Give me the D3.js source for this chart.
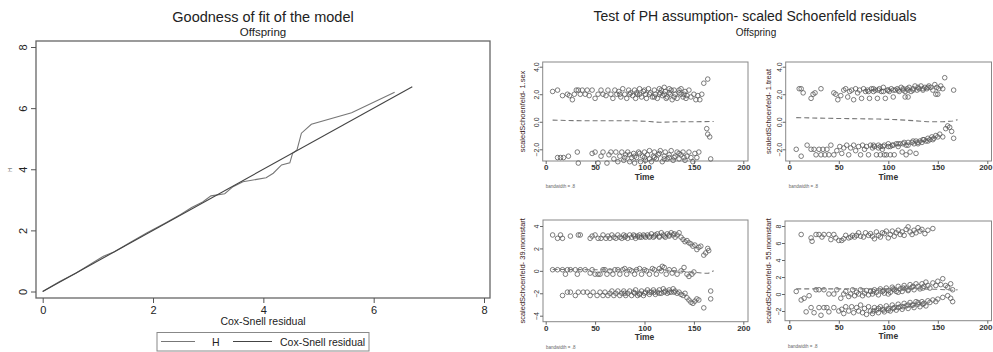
<!DOCTYPE html>
<html>
<head>
<meta charset="utf-8">
<script src="https://cdn.jsdelivr.net/npm/d3@7"></script>
<style>
  body { margin: 0; background: #fff; }
  svg { display: block; font-family: "Liberation Sans", Arial, sans-serif; }
</style>
</head>
<body>
<div id="chart"></div>
<script>
// ---- goodness of fit (left) ----
const fitTicks = [0, 2, 4, 6, 8];
// Nelson-Aalen cumulative hazard H against Cox-Snell residual
const hazardH = [[0,0],[0.3,0.32],[0.6,0.6],[0.9,0.93],[1.1,1.15],[1.3,1.3],[1.6,1.62],[1.9,1.93],
  [2.2,2.22],[2.5,2.52],[2.7,2.75],[2.9,2.93],[3.05,3.13],[3.3,3.2],[3.45,3.43],[3.63,3.59],
  [3.88,3.67],[4.05,3.72],[4.18,3.87],[4.33,4.14],[4.48,4.21],[4.53,4.52],[4.61,4.63],
  [4.69,5.18],[4.87,5.47],[5.6,5.85],[6.38,6.52]];
const coxSnellRef = [[0,0],[6.7,6.7]];
const legendLabels = ['H', 'Cox-Snell residual'];

// ---- scaled Schoenfeld residuals (right) ----
const timeTicks = [0, 50, 100, 150, 200];

const sexHi = [[7,2.2],[12,2.3],[17,1.9],[22,2.0],[24,1.9],[27,1.6],[29,2.0],[31,2.3],[33,2.3],[35,2.0],[37,2.3],[40,2.0],
  [42,2.3],[44,1.9],[47,2.3],[50,1.7],[53,2.0],[56,2.3],[58,2.0],[61,1.9],[63,2.3],[66,2.0],[68,1.7],[70,2.3],[72,2.0],
  [74,2.2],[76,1.8],[78,2.4],[80,2.0],[82,1.7],[84,2.3],[86,2.1],[88,1.9],[90,2.3],[91,1.7],[93,2.0],[95,2.4],[97,1.8],
  [99,2.2],[101,2.0],[102,1.7],[104,2.4],[106,2.1],[108,1.8],[110,2.3],[111,2.0],[113,1.7],[115,2.4],[116,2.1],[118,1.9],
  [120,2.5],[121,2.2],[123,1.8],[125,2.4],[126,2.0],[128,1.6],[130,2.3],[131,2.0],[133,1.7],[135,2.3],[137,2.0],[139,1.8],
  [141,2.2],[143,1.9],[145,2.3],[147,1.8],[150,2.0],[152,1.6],[154,1.9],[156,1.6],[158,2.0],[160,2.8],[164,3.1],
  [75,2.0],[85,2.0],[95,2.0],[105,2.0],[115,2.0],[125,2.1],[135,2.1],[100,2.3],[110,1.8],[120,2.0],[130,1.8],[140,2.0],
  [92,2.1],[117,2.3],[127,2.3],[137,2.4],[122,1.7],[142,1.7]];
const sexLo = [[12,-2.6],[15,-2.6],[18,-2.6],[23,-2.5],[32,-2.2],[33,-3.0],[47,-2.3],[50,-2.2],[53,-3.0],[56,-2.5],[58,-2.2],
  [62,-3.0],[64,-2.4],[66,-2.2],[69,-2.7],[71,-2.2],[73,-2.9],[75,-2.5],[77,-2.2],[79,-2.8],[81,-2.4],[83,-2.2],[85,-2.9],
  [87,-2.6],[89,-2.3],[90,-3.0],[92,-2.6],[94,-2.2],[96,-2.9],[98,-2.5],[100,-2.2],[101,-2.8],[103,-2.4],[105,-2.1],
  [107,-2.9],[109,-2.5],[110,-2.2],[112,-2.7],[114,-2.4],[116,-2.1],[118,-2.9],[120,-2.5],[121,-2.2],[123,-2.7],[125,-2.4],
  [127,-2.1],[129,-2.8],[131,-2.5],[133,-2.2],[135,-2.7],[137,-2.4],[139,-2.2],[141,-2.8],[143,-2.5],[145,-2.2],[147,-2.6],
  [149,-2.9],[151,-2.3],[153,-2.6],[155,-2.2],[163,-0.5],[164,-0.9],[166,-1.1],[167,-2.7],
  [80,-2.6],[90,-2.5],[100,-2.6],[110,-2.6],[120,-2.7],[130,-2.6],[95,-2.3],[105,-2.7],[115,-2.3],[125,-2.6],[135,-2.3],
  [140,-2.6],[85,-2.4]];
const sexSmooth = [[7,0.12],[30,0.08],[60,0.07],[90,0.07],[105,0.02],[115,-0.04],[130,0.0],[150,0.0],[170,0.02]];

const treatHi = [[10,2.4],[12,2.4],[14,2.1],[22,1.7],[24,2.0],[26,2.1],[32,2.4],[45,2.1],[47,2.0],[49,1.6],[52,1.9],[55,2.3],
  [57,2.4],[59,1.8],[61,2.2],[63,2.3],[65,1.6],[67,2.4],[69,2.1],[71,2.3],[73,1.7],[75,2.4],[77,2.2],[79,2.3],[81,1.7],
  [83,2.4],[85,2.2],[87,2.3],[89,1.7],[91,2.4],[93,2.2],[95,2.5],[97,1.7],[99,2.3],[101,2.2],[103,2.4],[105,1.8],[107,2.3],
  [109,2.4],[111,2.2],[113,2.5],[115,2.3],[117,1.8],[119,2.4],[121,2.5],[123,2.2],[125,2.4],[127,2.6],[129,2.3],[131,2.4],
  [133,2.6],[135,2.3],[137,2.5],[139,2.4],[141,2.6],[143,2.5],[145,2.3],[147,2.7],[149,2.5],[151,2.4],[153,2.6],[155,2.4],
  [157,3.2],[166,2.3],[80,2.2],[90,2.3],[100,2.3],[110,2.3],[120,2.3],[130,2.5],[140,2.5],[85,2.4],[95,2.2],[105,2.3],
  [115,2.4],[125,2.3],[135,2.4],[117,2.2],[120,1.8],[148,2.0],[150,2.0]];
const treatLo = [[7,-2.0],[12,-2.5],[18,-1.7],[22,-2.0],[25,-2.0],[27,-2.4],[30,-2.0],[32,-2.4],[34,-2.0],[36,-2.4],[38,-2.0],
  [40,-2.4],[42,-1.7],[45,-2.4],[48,-2.1],[51,-1.8],[53,-2.3],[55,-1.9],[58,-1.7],[60,-2.4],[62,-1.9],[65,-1.7],[67,-2.1],
  [70,-1.8],[72,-2.4],[74,-1.7],[76,-2.0],[78,-1.8],[80,-2.4],[82,-1.7],[84,-1.9],[86,-1.8],[88,-2.4],[90,-1.7],[92,-1.8],
  [94,-2.0],[96,-1.7],[98,-2.4],[100,-1.6],[102,-1.8],[104,-1.7],[106,-2.4],[108,-1.6],[110,-1.8],[112,-1.6],[114,-2.2],
  [116,-1.5],[118,-1.7],[120,-1.5],[122,-2.2],[124,-1.5],[126,-1.6],[128,-1.4],[130,-1.6],[132,-1.4],[134,-1.5],[136,-1.3],
  [138,-1.4],[140,-1.2],[142,-1.3],[144,-1.1],[146,-1.2],[148,-1.0],[150,-1.1],[152,-0.9],[155,-1.1],[158,-0.5],[160,-0.3],
  [162,-0.4],[164,-0.7],[166,-1.2],[85,-1.7],[95,-1.8],[105,-1.7],[115,-1.6],[125,-1.4],[135,-1.3],[145,-1.3],[90,-1.9],
  [100,-1.8],[110,-1.6],[120,-1.7],[130,-1.5],[140,-1.4],[92,-2.4],[96,-2.4],[102,-2.4],[118,-2.4],[128,-2.3]];
const treatSmooth = [[7,0.3],[40,0.25],[70,0.22],[90,0.2],[110,0.15],[125,0.08],[140,0.0],[155,0.0],[165,0.05],[170,0.15]];

const mom39Hi = [[7,3.2],[12,2.9],[15,3.2],[17,2.9],[25,3.1],[33,3.2],[35,3.2],[45,2.9],[47,3.1],[50,3.2],[53,2.9],[56,2.9],
  [58,3.2],[61,2.9],[63,3.1],[65,2.9],[67,3.2],[69,3.0],[71,2.9],[73,3.2],[75,3.0],[77,2.9],[79,3.2],[81,3.1],[83,2.9],
  [85,3.2],[87,3.0],[89,3.2],[91,2.9],[93,3.1],[95,3.2],[97,3.0],[99,3.2],[101,3.0],[103,3.2],[105,3.1],[107,3.3],[109,3.0],
  [111,3.2],[113,3.3],[115,3.1],[117,3.4],[119,3.2],[121,3.0],[123,3.3],[125,3.1],[127,3.4],[129,3.2],[131,3.0],[133,3.2],
  [135,3.4],[137,3.0],[139,2.8],[141,2.6],[143,2.7],[145,2.5],[147,2.4],[149,2.2],[151,2.3],[153,1.9],[155,2.1],[157,2.2],
  [160,1.4],[162,1.6],[164,2.0],[165,1.8],[80,3.0],[90,3.1],[100,3.1],[110,3.1],[120,3.1],[130,3.3],[95,3.0],[105,3.0],
  [115,3.0],[125,3.2]];
const mom39Mid = [[7,0.1],[12,0.1],[17,0.1],[20,-0.3],[22,0.1],[25,0.1],[30,0.1],[32,-0.3],[35,0.1],[40,0.1],[45,-0.2],
  [47,0.1],[50,-0.3],[53,-0.3],[55,-0.3],[58,0.1],[60,0.1],[62,-0.3],[65,0.0],[68,-0.3],[70,0.1],[73,0.1],[75,-0.3],[78,0.1],
  [80,0.2],[82,-0.3],[85,0.1],[87,0.0],[90,-0.3],[92,0.1],[95,0.2],[97,-0.3],[100,0.1],[102,0.0],[105,-0.3],[108,0.2],
  [110,0.1],[112,-0.3],[115,0.2],[117,0.0],[118,0.4],[120,0.3],[122,-0.3],[125,0.1],[128,-0.2],[130,0.1],[133,-0.3],
  [137,0.0],[140,0.3],[143,-0.3],[145,-0.5],[148,-0.3],[150,-0.1]];
const mom39Lo = [[17,-2.2],[22,-1.9],[25,-1.9],[30,-2.2],[33,-1.9],[38,-1.9],[42,-1.9],[45,-2.2],[48,-1.9],[52,-2.2],[55,-1.9],
  [58,-2.2],[60,-1.9],[63,-2.2],[65,-2.0],[67,-1.8],[69,-2.2],[71,-2.0],[73,-1.8],[75,-2.2],[77,-2.0],[79,-1.8],[81,-2.2],
  [83,-2.0],[85,-1.8],[87,-2.2],[89,-1.9],[91,-1.7],[93,-2.2],[95,-2.0],[97,-1.8],[99,-2.2],[101,-1.9],[103,-1.7],[105,-2.1],
  [107,-1.9],[109,-1.7],[111,-2.1],[113,-1.9],[115,-1.7],[117,-2.0],[119,-1.6],[121,-1.8],[123,-2.0],[125,-1.7],[127,-1.9],
  [129,-1.6],[131,-1.8],[133,-2.0],[135,-1.9],[137,-2.1],[139,-2.2],[141,-2.0],[143,-2.4],[145,-2.6],[147,-2.8],[149,-2.9],
  [151,-2.7],[153,-2.5],[155,-2.6],[160,-3.3],[167,-2.5],[167,-1.8],[80,-2.0],[90,-2.0],[100,-2.0],[110,-1.9],[120,-1.9],
  [130,-1.9],[95,-2.1],[105,-1.9],[115,-2.0],[125,-1.9]];
const mom39Smooth = [[7,0.12],[50,0.1],[100,0.1],[125,0.05],[140,-0.05],[150,-0.12],[160,-0.22],[165,-0.2],[170,0.0]];

const mom55Hi = [[12,7.0],[22,6.6],[23,6.2],[27,7.0],[30,7.0],[33,6.7],[35,7.0],[40,7.0],[42,6.4],[45,7.0],[47,6.6],[50,6.3],
  [53,6.3],[55,6.5],[57,6.9],[60,6.6],[62,6.7],[64,6.9],[66,6.7],[68,6.9],[70,7.2],[72,6.8],[75,6.7],[77,7.2],[80,6.9],
  [82,7.1],[84,6.8],[86,6.5],[88,7.3],[90,6.9],[92,6.7],[94,7.2],[96,7.1],[98,7.4],[100,6.6],[102,7.0],[104,7.4],[106,6.8],
  [108,7.2],[110,7.5],[112,7.0],[114,7.3],[116,6.9],[118,7.6],[120,7.9],[122,7.3],[124,7.0],[126,7.5],[128,7.2],[130,7.8],
  [132,7.4],[134,7.6],[137,7.1],[140,7.5],[145,7.7]];
const mom55Mid = [[7,0.3],[12,-0.7],[15,-0.5],[20,-0.2],[27,0.5],[30,0.5],[35,0.5],[40,0.0],[45,0.0],[48,0.5],[52,-0.5],
  [55,0.0],[57,0.3],[60,-0.3],[62,0.0],[64,0.5],[66,-0.2],[68,0.2],[70,0.0],[72,0.5],[74,-0.2],[76,0.1],[78,0.4],[80,-0.1],
  [82,0.3],[84,0.0],[86,0.5],[88,0.2],[90,-0.1],[92,0.6],[94,0.3],[96,0.1],[98,0.7],[100,0.4],[102,0.2],[104,0.8],[106,0.5],
  [108,0.3],[110,0.9],[112,0.6],[114,0.3],[116,1.0],[118,0.7],[120,0.4],[122,1.1],[124,0.8],[126,0.5],[128,1.2],[130,0.9],
  [132,0.6],[134,1.2],[136,0.9],[138,1.4],[140,1.0],[142,0.7],[145,1.3],[148,1.0],[150,1.5],[153,1.1],[155,1.8],[158,1.0],
  [160,0.8],[163,1.2],[165,0.5],[85,0.3],[95,0.4],[105,0.6],[115,0.7],[125,0.9],[135,0.7],[100,0.0],[110,0.2],[120,0.5]];
const mom55Lo = [[17,-2.1],[22,-1.6],[25,-2.2],[30,-1.6],[32,-2.5],[35,-1.6],[38,-1.6],[40,-2.1],[45,-1.6],[50,-2.0],[53,-1.8],
  [55,-2.3],[57,-1.5],[60,-2.0],[63,-1.5],[65,-2.2],[68,-1.6],[70,-2.0],[72,-1.3],[74,-2.2],[76,-1.7],[78,-2.4],[80,-1.5],
  [82,-2.0],[84,-2.3],[86,-1.6],[88,-1.9],[90,-2.2],[92,-1.5],[94,-1.8],[96,-2.1],[98,-1.4],[100,-1.7],[102,-2.0],[104,-1.3],
  [106,-1.6],[108,-1.9],[110,-1.2],[112,-1.5],[114,-1.8],[116,-1.1],[118,-1.4],[120,-1.7],[122,-1.0],[124,-1.3],[126,-1.6],
  [128,-0.9],[130,-1.2],[132,-1.5],[134,-0.9],[136,-1.1],[138,-1.4],[140,-0.8],[142,-1.0],[145,-0.7],[148,-0.9],[150,-0.6],
  [155,-0.4],[160,-0.2],[163,-0.5],[165,-0.9],[85,-2.0],[95,-1.9],[105,-1.7],[115,-1.5],[125,-1.3],[135,-1.2],[90,-1.7],
  [100,-1.9],[110,-1.6],[120,-1.3],[130,-1.0]];
const mom55Smooth = [[7,0.6],[50,0.6],[100,0.6],[130,0.6],[150,0.55],[165,0.45],[170,0.5]];

const width = 993, height = 352;
const font = '"Liberation Sans", Arial, sans-serif';

const svg = d3.select('#chart').append('svg').attr('width', width).attr('height', height);

// ---------------- left panel ----------------
const fitFrame = { left: 36, right: 490, top: 41, bottom: 298 };
const fx = d3.scaleLinear().domain([0, 8]).range([42.7, 484]);
const fy = d3.scaleLinear().domain([0, 8]).range([291.5, 47]);

svg.append('text').attr('x', 263).attr('y', 22).attr('text-anchor', 'middle')
    .attr('font-size', 14.5).attr('fill', '#222').text('Goodness of fit of the model');
svg.append('text').attr('x', 263).attr('y', 35.5).attr('text-anchor', 'middle')
    .attr('font-size', 11.5).attr('fill', '#222').text('Offspring');

svg.append('rect')
    .attr('x', fitFrame.left).attr('y', fitFrame.top)
    .attr('width', fitFrame.right - fitFrame.left).attr('height', fitFrame.bottom - fitFrame.top)
    .attr('fill', 'none').attr('stroke', '#666').attr('stroke-width', 1.3);

const fitLine = d3.line().x((d) => fx(d[0])).y((d) => fy(d[1]));
svg.append('path').datum(hazardH).attr('d', fitLine)
    .attr('fill', 'none').attr('stroke', '#777').attr('stroke-width', 1.1);
svg.append('path').datum(coxSnellRef).attr('d', fitLine)
    .attr('fill', 'none').attr('stroke', '#444').attr('stroke-width', 1.1);

const fxAxis = svg.append('g').attr('transform', `translate(0,${fitFrame.bottom})`)
    .call(d3.axisBottom(fx).tickValues(fitTicks).tickSize(5).tickPadding(3));
const fyAxis = svg.append('g').attr('transform', `translate(${fitFrame.left},0)`)
    .call(d3.axisLeft(fy).tickValues(fitTicks).tickSize(5));
[fxAxis, fyAxis].forEach((a) => {
    a.select('.domain').remove();
    a.selectAll('line').attr('stroke', '#555');
    a.selectAll('text').attr('font-size', 11).attr('font-family', font).attr('fill', '#222');
});
fyAxis.selectAll('text')
    .attr('transform', 'rotate(-90)').attr('x', 0).attr('y', -9).attr('dy', 0)
    .attr('text-anchor', 'middle');

svg.append('text').attr('x', 263).attr('y', 325).attr('text-anchor', 'middle')
    .attr('font-size', 10.5).attr('fill', '#222').text('Cox-Snell residual');
svg.append('text').attr('transform', 'translate(12,170) rotate(-90)').attr('text-anchor', 'middle')
    .attr('font-size', 5).attr('fill', '#444').text('H');

// legend
const legend = svg.append('g');
legend.append('rect').attr('x', 157).attr('y', 332.5).attr('width', 212).attr('height', 18.5)
    .attr('fill', '#fff').attr('stroke', '#888').attr('stroke-width', 1);
const legendItems = [
    { label: legendLabels[0], x1: 161, x2: 195, tx: 212, color: '#777' },
    { label: legendLabels[1], x1: 233, x2: 272, tx: 280, color: '#444' }
];
legendItems.forEach((it) => {
    legend.append('line').attr('x1', it.x1).attr('x2', it.x2).attr('y1', 341.5).attr('y2', 341.5)
        .attr('stroke', it.color).attr('stroke-width', 1);
    legend.append('text').attr('x', it.tx).attr('y', 345.5).attr('font-size', 10.5)
        .attr('fill', '#222').text(it.label);
});

// ---------------- right panels ----------------
svg.append('text').attr('x', 755).attr('y', 21).attr('text-anchor', 'middle')
    .attr('font-size', 14).attr('fill', '#222').text('Test of PH assumption- scaled Schoenfeld residuals');
svg.append('text').attr('x', 756).attr('y', 36).attr('text-anchor', 'middle')
    .attr('font-size', 10).attr('fill', '#222').text('Offspring');

const panels = [
    { title: 'scaledSchoenfeld- 1.sex', groups: [sexHi, sexLo], smooth: sexSmooth,
      yTicks: [-2, 0, 2, 4], yRange: [149.3, 66.7], xRange: [545.7, 743.3],
      frame: { left: 542.7, right: 748, top: 62, bottom: 161 }, titleX: 522, bwY: 187.5 },
    { title: 'scaledSchoenfeld- 1.treat', groups: [treatHi, treatLo], smooth: treatSmooth,
      yTicks: [-2, 0, 2, 4], yRange: [149.3, 66.7], xRange: [789.3, 987.3],
      frame: { left: 785.7, right: 991.5, top: 62, bottom: 161 }, titleX: 768, bwY: 187.5 },
    { title: 'scaledSchoenfeld- 39.momstart', groups: [mom39Hi, mom39Mid, mom39Lo], smooth: mom39Smooth,
      yTicks: [-4, -2, 0, 2, 4], yRange: [315.7, 226], xRange: [545.7, 743.3],
      frame: { left: 543, right: 748, top: 220, bottom: 321.7 }, titleX: 522, bwY: 349 },
    { title: 'scaledSchoenfeld- 55.momstart', groups: [mom55Hi, mom55Mid, mom55Lo], smooth: mom55Smooth,
      yTicks: [-2, 0, 2, 4, 6, 8], yRange: [311, 226], xRange: [789.3, 987.3],
      frame: { left: 785, right: 991.5, top: 221, bottom: 320.7 }, titleX: 768, bwY: 348 }
];

function schoenfeldPanel(p) {
    const g = svg.append('g');
    const yExt = d3.extent(p.yTicks);
    const x = d3.scaleLinear().domain([0, 200]).range(p.xRange);
    const y = d3.scaleLinear().domain(yExt).range(p.yRange);
    const f = p.frame;

    g.append('rect')
        .attr('x', f.left).attr('y', f.top)
        .attr('width', f.right - f.left).attr('height', f.bottom - f.top)
        .attr('fill', 'none').attr('stroke', '#888').attr('stroke-width', 1);

    g.selectAll('circle')
        .data(p.groups.flat())
        .enter()
        .append('circle')
        .attr('cx', (d) => x(d[0]))
        .attr('cy', (d) => y(d[1]))
        .attr('r', 2.3)
        .attr('fill', 'none')
        .attr('stroke', '#555')
        .attr('stroke-opacity', 0.85)
        .attr('stroke-width', 0.9);

    g.append('path').datum(p.smooth)
        .attr('d', d3.line().x((d) => x(d[0])).y((d) => y(d[1])))
        .attr('fill', 'none').attr('stroke', '#777').attr('stroke-width', 1.1)
        .attr('stroke-dasharray', '5,3');

    const xa = g.append('g').attr('transform', `translate(0,${f.bottom})`)
        .call(d3.axisBottom(x).tickValues(timeTicks).tickSize(3).tickPadding(0.5));
    const ya = g.append('g').attr('transform', `translate(${f.left},0)`)
        .call(d3.axisLeft(y).tickValues(p.yTicks).tickSize(3));
    [xa, ya].forEach((a) => {
        a.select('.domain').remove();
        a.selectAll('line').attr('stroke', '#666');
        a.selectAll('text').attr('font-family', font).attr('fill', '#333');
    });
    xa.selectAll('text').attr('font-size', 8).attr('font-weight', 'bold');
    // keep the last label inside the picture on the right column
    xa.selectAll('text').filter((d) => d === 200 && x(200) + 8 > width)
        .attr('text-anchor', 'end').attr('x', width - 1 - x(200));
    ya.selectAll('text').attr('font-size', 7)
        .attr('transform', 'rotate(-90)').attr('x', 0).attr('y', -4).attr('dy', 0)
        .attr('text-anchor', 'middle');

    g.append('text').attr('x', x(100)).attr('y', f.bottom + 18.5).attr('text-anchor', 'middle')
        .attr('font-size', 8.5).attr('font-weight', 'bold').attr('fill', '#333').text('Time');
    g.append('text')
        .attr('transform', `translate(${p.titleX},${(f.top + f.bottom) / 2}) rotate(-90)`)
        .attr('text-anchor', 'middle').attr('dy', '0.35em')
        .attr('font-size', 7.5).attr('fill', '#3a1a1a').text(p.title);
    g.append('text').attr('x', f.left + 3).attr('y', p.bwY)
        .attr('font-size', 4.5).attr('fill', '#666').text('bandwidth = .8');
}

panels.forEach(schoenfeldPanel);
</script>
</body>
</html>
